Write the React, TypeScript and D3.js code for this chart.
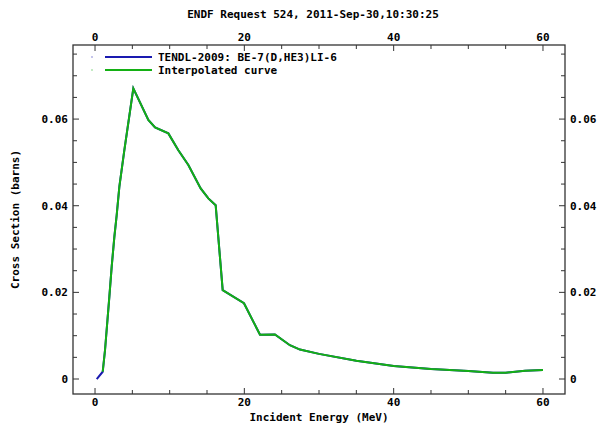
import { useEffect, useRef } from 'react';
import * as d3 from 'd3';

// TENDL-2009 evaluated points (energy MeV, cross section barns)
const tendlEnergy = [0.23, 1.03, 1.34, 1.92, 2.23, 2.59, 2.9, 3.26, 3.9, 5.13, 7.14, 8.04, 9.82, 11.16, 12.5, 14.15, 15.18, 16.16, 17.1, 19.95, 22.1, 24.1, 26.1, 27.45, 30, 35, 40, 45, 50, 53.3, 55, 57.6, 60];
const tendlXs = [0, 0.00168, 0.0067, 0.019, 0.0259, 0.0328, 0.0378, 0.0444, 0.0525, 0.0671, 0.0598, 0.0581, 0.0567, 0.0528, 0.0494, 0.044, 0.0417, 0.0401, 0.0205, 0.0175, 0.0102, 0.0103, 0.0078, 0.0068, 0.0058, 0.0042, 0.003, 0.0023, 0.00185, 0.00146, 0.00146, 0.0019, 0.0021];

// interpolated curve
const interpEnergy = [1.03, 1.34, 1.92, 2.23, 2.59, 2.9, 3.26, 3.9, 5.13, 7.14, 8.04, 9.82, 11.16, 12.5, 14.15, 15.18, 16.16, 17.1, 19.95, 22.1, 24.1, 26.1, 27.45, 30, 35, 40, 45, 50, 53.3, 55, 57.6, 60];
const interpXs = [0.00168, 0.0067, 0.019, 0.0259, 0.0328, 0.0378, 0.0444, 0.0525, 0.0671, 0.0598, 0.0581, 0.0567, 0.0528, 0.0494, 0.044, 0.0417, 0.0401, 0.0205, 0.0175, 0.0102, 0.0103, 0.0078, 0.0068, 0.0058, 0.0042, 0.003, 0.0023, 0.00185, 0.00146, 0.00146, 0.0019, 0.0021];

const xMajor = [0, 20, 40, 60];
const xMinor = [5, 10, 15, 25, 30, 35, 45, 50, 55];
const yMajor = [0, 0.02, 0.04, 0.06];
const yMinor = [0.005, 0.01, 0.015, 0.025, 0.03, 0.035, 0.045, 0.05, 0.055, 0.065, 0.07, 0.075];

const title = 'ENDF Request 524, 2011-Sep-30,10:30:25';
const legendLabels = ['TENDL-2009: BE-7(D,HE3)LI-6', 'Interpolated curve'];
const xTitle = 'Incident Energy (MeV)';
const yTitle = 'Cross Section (barns)';

const BLUE = '#1a1ab0';
const GREEN = '#14b014';
const FRAME = '#333';
const FONT = '"DejaVu Sans Mono", monospace';

type Pt = [number, number];

export default function App() {
  const svgRef = useRef<SVGSVGElement>(null);

  useEffect(() => {
    if (!svgRef.current) return;
    const svg = d3.select(svgRef.current);
    svg.selectAll('*').remove();

    const left = 73, right = 565, top = 45, bottom = 394;

    const x = d3.scaleLinear().domain([-2.95, 62.95]).range([left, right]);
    const y = d3.scaleLinear().domain([-0.00346, 0.0771]).range([bottom, top]);

    const txt = (sel: any) => sel
      .style('font-family', FONT)
      .style('font-weight', 'bold')
      .style('font-size', '11px')
      .attr('fill', '#000');

    svg.append('rect')
      .attr('width', 600).attr('height', 429).attr('fill', '#fff');

    // title
    svg.append('text')
      .attr('x', 313).attr('y', 18)
      .attr('text-anchor', 'middle')
      .call(txt)
      .text(title);

    const g = svg.append('g');

    // tick marks (inward)
    const tick = (x1: number, y1: number, x2: number, y2: number) =>
      g.append('line').attr('x1', x1).attr('y1', y1).attr('x2', x2).attr('y2', y2)
        .attr('stroke', FRAME).attr('stroke-width', 1);

    xMajor.forEach(v => {
      tick(x(v), bottom, x(v), bottom - 6);
      tick(x(v), top, x(v), top + 6);
    });
    xMinor.forEach(v => {
      tick(x(v), bottom, x(v), bottom - 4);
      tick(x(v), top, x(v), top + 4);
    });
    yMajor.forEach(v => {
      tick(left, y(v), left + 6, y(v));
      tick(right, y(v), right - 6, y(v));
    });
    yMinor.forEach(v => {
      tick(left, y(v), left + 4, y(v));
      tick(right, y(v), right - 4, y(v));
    });

    g.append('rect')
      .attr('x', left).attr('y', top)
      .attr('width', right - left).attr('height', bottom - top)
      .attr('fill', 'none').attr('stroke', FRAME).attr('stroke-width', 1.3);

    // tick labels
    xMajor.forEach(v => {
      g.append('text').attr('x', x(v)).attr('y', 406).attr('text-anchor', 'middle').call(txt).text(String(v));
      g.append('text').attr('x', x(v)).attr('y', 41).attr('text-anchor', 'middle').call(txt).text(String(v));
    });
    const yFmt = (v: number) => (v === 0 ? '0' : v.toFixed(2));
    yMajor.forEach(v => {
      g.append('text').attr('x', 68).attr('y', y(v) + 4).attr('text-anchor', 'end').call(txt).text(yFmt(v));
      g.append('text').attr('x', 570).attr('y', y(v) + 4).attr('text-anchor', 'start').call(txt).text(yFmt(v));
    });

    // axis titles
    svg.append('text')
      .attr('x', (left + right) / 2).attr('y', 421)
      .attr('text-anchor', 'middle').call(txt).text(xTitle);
    svg.append('text')
      .attr('transform', `translate(19,${(top + bottom) / 2}) rotate(-90)`)
      .attr('text-anchor', 'middle').call(txt).text(yTitle);

    const line = d3.line<Pt>().x(d => x(d[0])).y(d => y(d[1]));

    const tendl: Pt[] = tendlEnergy.map((e, i) => [e, tendlXs[i]]);
    const interp: Pt[] = interpEnergy.map((e, i) => [e, interpXs[i]]);

    g.append('path').datum(tendl)
      .attr('fill', 'none').attr('stroke', BLUE).attr('stroke-width', 2)
      .attr('d', line);
    g.append('path').datum(interp)
      .attr('fill', 'none').attr('stroke', GREEN).attr('stroke-width', 2)
      .attr('d', line);

    // legend
    [BLUE, GREEN].forEach((c, i) => {
      const ly = 57 + i * 13;
      g.append('rect').attr('x', 91.5).attr('y', ly - 0.5).attr('width', 1).attr('height', 1).attr('fill', c);
      g.append('line').attr('x1', 105).attr('x2', 152).attr('y1', ly).attr('y2', ly)
        .attr('stroke', c).attr('stroke-width', 2);
      g.append('text').attr('x', 158).attr('y', ly + 4).call(txt).text(legendLabels[i]);
    });
  }, []);

  return (
    <svg ref={svgRef} width={600} height={429}
      style={{ position: 'absolute', left: 0, top: 0, display: 'block' }} />
  );
}
